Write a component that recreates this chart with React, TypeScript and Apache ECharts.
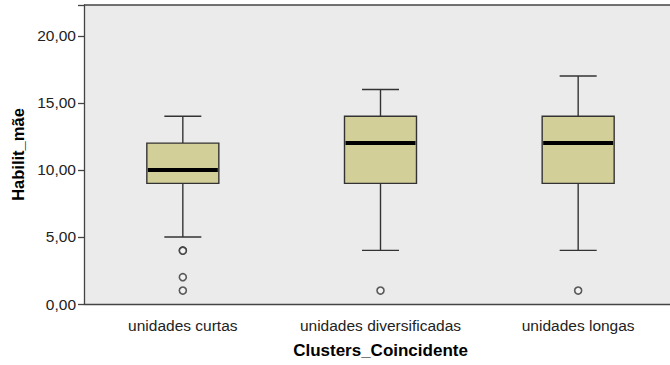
import React, { useEffect, useRef } from "react";
import * as echarts from "echarts";

const categories = ["unidades curtas", "unidades diversificadas", "unidades longas"];
const whiskerLow = [5, 4, 4];
const q1 = [9, 9, 9];
const median = [10, 12, 12];
const q3 = [12, 14, 14];
const whiskerHigh = [14, 16, 17];
const outlierCat = [0, 0, 0, 0, 1, 2];
const outlierVal = [4, 3.97, 2, 1, 1, 1];
const yTicks = [0, 5, 10, 15, 20];

const FONT = "'Liberation Sans', Arial, sans-serif";

export default function App() {
  const ref = useRef<HTMLDivElement>(null);
  useEffect(() => {
    document.body.style.margin = "0";
    if (!ref.current) return;
    const chart = echarts.init(ref.current, undefined, { renderer: "svg" });
    const boxData = categories.map((_, i) => [i, whiskerLow[i], q1[i], median[i], q3[i], whiskerHigh[i]]);
    const outData = outlierCat.map((c, i) => [c, outlierVal[i]]);
    chart.setOption({
      animation: false,
      backgroundColor: "#ffffff",
      grid: { left: 84, top: 5, right: 3, bottom: 61, show: true, backgroundColor: "#ebebeb", borderWidth: 0 },
      xAxis: {
        type: "category",
        data: categories,
        name: "Clusters_Coincidente",
        nameLocation: "middle",
        nameGap: 38,
        nameTextStyle: { fontFamily: FONT, fontWeight: "bold", fontSize: 17, color: "#000" },
        axisLine: { lineStyle: { color: "#444", width: 1.3 } },
        axisTick: { alignWithLabel: true, length: 6, lineStyle: { color: "#444", width: 1.3 } },
        axisLabel: { fontFamily: FONT, fontSize: 15.5, color: "#222", margin: 13, interval: 0 },
        splitLine: { show: false },
      },
      yAxis: {
        type: "value",
        min: 0,
        max: 22.3,
        interval: 5,
        name: "Habilit_mãe",
        nameLocation: "middle",
        nameGap: 58,
        nameTextStyle: { fontFamily: FONT, fontWeight: "bold", fontSize: 16.5, color: "#000" },
        axisLine: { show: true, lineStyle: { color: "#444", width: 1.3 } },
        axisTick: { show: true, length: 6, lineStyle: { color: "#444", width: 1.3 } },
        axisLabel: {
          fontFamily: FONT,
          fontSize: 15.5,
          color: "#222",
          margin: 8,
          formatter: (v: number) => (yTicks.includes(v) ? v.toFixed(2).replace(".", ",") : ""),
        },
        splitLine: { show: false },
      },
      graphic: [
        {
          type: "line",
          shape: { x1: 84, y1: 5, x2: 680, y2: 5 },
          style: { stroke: "#444", lineWidth: 1.3 },
        },
      ],
      series: [
        {
          type: "custom",
          data: boxData,
          encode: { x: 0, y: [1, 2, 3, 4, 5] },
          renderItem: (params: any, api: any) => {
            const i = api.value(0);
            const pLow = api.coord([i, api.value(1)]);
            const pQ1 = api.coord([i, api.value(2)]);
            const pMed = api.coord([i, api.value(3)]);
            const pQ3 = api.coord([i, api.value(4)]);
            const pHigh = api.coord([i, api.value(5)]);
            const cx = pLow[0];
            const bw = 72;
            const cw = 37;
            const lineStyle = { stroke: "#333", lineWidth: 1.4 };
            return {
              type: "group",
              children: [
                { type: "line", shape: { x1: cx, y1: pHigh[1], x2: cx, y2: pQ3[1] }, style: lineStyle },
                { type: "line", shape: { x1: cx, y1: pQ1[1], x2: cx, y2: pLow[1] }, style: lineStyle },
                { type: "line", shape: { x1: cx - cw / 2, y1: pHigh[1], x2: cx + cw / 2, y2: pHigh[1] }, style: lineStyle },
                { type: "line", shape: { x1: cx - cw / 2, y1: pLow[1], x2: cx + cw / 2, y2: pLow[1] }, style: lineStyle },
                {
                  type: "rect",
                  shape: { x: cx - bw / 2, y: pQ3[1], width: bw, height: pQ1[1] - pQ3[1] },
                  style: { fill: "#d3cf98", stroke: "#333", lineWidth: 1.4 },
                },
                {
                  type: "line",
                  shape: { x1: cx - bw / 2 + 1, y1: pMed[1], x2: cx + bw / 2 - 1, y2: pMed[1] },
                  style: { stroke: "#000", lineWidth: 4 },
                },
              ],
            };
          },
        },
        {
          type: "scatter",
          data: outData,
          symbol: "circle",
          symbolSize: 7,
          itemStyle: { color: "#f4f4f4", borderColor: "#333", borderWidth: 1.6 },
        },
      ],
    });
    return () => chart.dispose();
  }, []);
  return (
    <div style={{ width: 670, height: 365, overflow: "hidden" }}>
      <div ref={ref} style={{ width: 680, height: 365 }} />
    </div>
  );
}
